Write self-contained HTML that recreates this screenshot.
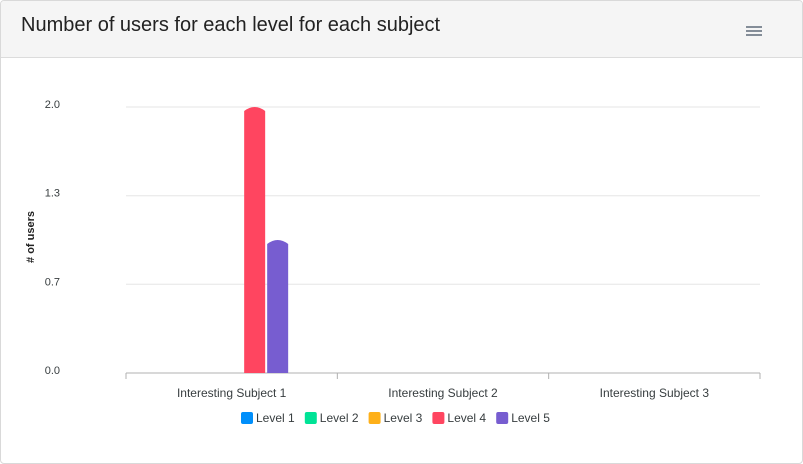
<!DOCTYPE html>
<html><head><meta charset="utf-8"><style>
body{margin:0;width:803px;height:464px;background:#fff;font-family:"Liberation Sans",sans-serif;overflow:hidden}
.card{position:absolute;left:0;top:0;width:801px;height:462px;border:1px solid #d9d9d9;border-radius:4px;overflow:hidden}
.hdr{position:absolute;left:0;top:0;width:801px;height:56px;background:#f5f5f5;border-bottom:1px solid #dcdcdc}
.title{position:absolute;left:20px;top:13px;font-size:20px;color:#222}
</style></head><body>
<div class="card">
<div class="hdr">
<div class="title">Number of users for each level for each subject</div>
<svg style="position:absolute;left:744px;top:24px" width="18" height="12"><g stroke="#5f6b7a" stroke-width="1.6"><line x1="1" y1="2" x2="17" y2="2"/><line x1="1" y1="6" x2="17" y2="6"/><line x1="1" y1="10" x2="17" y2="10"/></g></svg>
</div>
</div>
<svg id="c" width="803" height="464" style="position:absolute;left:0;top:0"></svg>
<script>
const categories=["Interesting Subject 1","Interesting Subject 2","Interesting Subject 3"];
const seriesNames=["Level 1","Level 2","Level 3","Level 4","Level 5"];
const colors=["#008ffb","#00e396","#feb019","#ff4560","#775dd0"];
const level1=[0,0,0],level2=[0,0,0],level3=[0,0,0],level4=[2,0,0],level5=[1,0,0];
const series=[level1,level2,level3,level4,level5];
const ticks=[0,0.667,1.333,2.0];
const tickLabels=["0.0","0.7","1.3","2.0"];
const svg=document.getElementById('c'),NS="http://www.w3.org/2000/svg";
const X0=126,X1=760,Y0=373,Y1=107,yMax=2;
const y=v=>Y0-(v/yMax)*(Y0-Y1);
const cw=(X1-X0)/categories.length;
function mk(t,a,txt){const e=document.createElementNS(NS,t);for(const k in a)e.setAttribute(k,a[k]);if(txt!=null)e.textContent=txt;svg.appendChild(e);return e;}
ticks.forEach((t,i)=>{
const g=mk('line',{x1:X0,x2:X1,y1:y(t),y2:y(t),stroke:i==0?'#b0b0b0':'#e6e6e6'});


const l=mk('text',{x:60,y:y(t)+1,'text-anchor':'end','font-size':11,fill:'#373d3f'},tickLabels[i]);


});
const yt=mk('text',{x:34,y:237,'text-anchor':'middle','font-size':11,'font-weight':'bold',fill:'#222',transform:'rotate(-90 34 237)'},'# of users');


for(let i=0;i<=categories.length;i++){const t=mk('line',{x1:X0+i*cw,x2:X0+i*cw,y1:Y0,y2:Y0+6,stroke:'#b0b0b0'});

}
const bw=21,gap=2;
categories.forEach((c,ci)=>{
const cx=X0+cw*ci+cw/2;
const l=mk('text',{x:cx,y:397,'text-anchor':'middle','font-size':12,fill:'#373d3f'},c);


const start=cx-(5*bw+4*gap)/2;
series.forEach((s,si)=>{
const v=s[ci];if(!v)return;
const x=start+si*(bw+gap),top=y(v),r=4;
const p=mk('path',{d:`M${x},${Y0}L${x},${top+r}Q${x+bw/2},${top-r} ${x+bw},${top+r}L${x+bw},${Y0}Z`,fill:colors[si]});


});
});
let lx=241;
seriesNames.forEach((n,i)=>{
const r=mk('rect',{x:lx,y:412,width:12,height:12,rx:2,fill:colors[i]});


const t=mk('text',{x:lx+15,y:422,'font-size':12,fill:'#373d3f'},n);


lx+=63.8;
});
</script>
</body></html>
